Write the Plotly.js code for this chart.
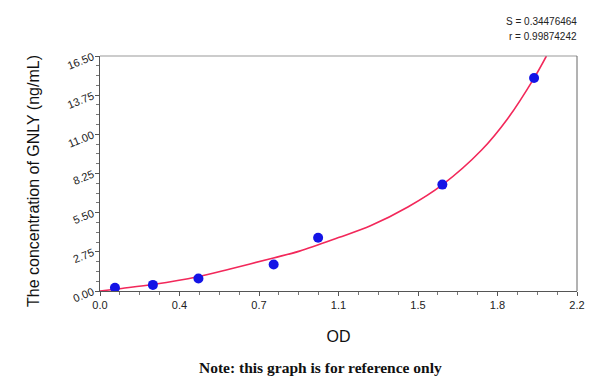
<!DOCTYPE html>
<html>
<head>
<meta charset="utf-8">
<script src="https://cdn.plot.ly/plotly-3.0.1.min.js"></script>
<style>html,body{margin:0;padding:0;background:#fff}#chart{width:600px;height:379px}</style>
</head>
<body>
<div id="chart"></div>
<script>
// Standard points (OD vs concentration)
const odValues = [0.069, 0.244, 0.454, 0.801, 1.006, 1.579, 2.002];
const concValues = [0.23, 0.43, 0.88, 1.86, 3.74, 7.47, 14.95];
// Fitted curve
const fitOD = [0, 0.1, 0.25, 0.45, 0.6, 0.8, 0.92, 1.1, 1.25, 1.42, 1.58, 1.76, 1.88, 2.0, 2.059];
const fitConc = [0, 0.18, 0.47, 1.0, 1.55, 2.32, 2.8, 3.75, 4.6, 5.9, 7.47, 9.9, 12.1, 14.9, 16.5];
// Axis ticks
const xTickVals = [0, 2.2/6, 2*2.2/6, 1.1, 4*2.2/6, 5*2.2/6, 2.2];
const xTickText = ["0.0", "0.4", "0.7", "1.1", "1.5", "1.8", "2.2"];
const yTickVals = [0, 2.75, 5.5, 8.25, 11, 13.75, 16.5];
const yTickText = ["0.00", "2.75", "5.50", "8.25", "11.00", "13.75", "16.50"];
const statS = "S = 0.34476464";
const statR = "r = 0.99874242";

const traces = [
  {x: fitOD, y: fitConc, mode: 'lines', line: {color: '#f2285a', width: 1.6, shape: 'spline', smoothing: 1}, hoverinfo: 'skip'},
  {x: odValues, y: concValues, mode: 'markers', marker: {color: '#1414e6', size: 10}}
];

const layout = {
  width: 600, height: 379,
  margin: {l: 100, r: 23, t: 56, b: 88},
  paper_bgcolor: '#fff', plot_bgcolor: '#fff',
  showlegend: false,
  font: {family: 'Arial, Liberation Sans, sans-serif', color: '#222'},
  xaxis: {
    range: [0, 2.2], showgrid: false, zeroline: false,
    showline: true, linecolor: '#555', linewidth: 1,
    tickmode: 'array', tickvals: xTickVals, ticktext: xTickText,
    ticks: 'outside', ticklen: 4, tickcolor: '#555',
    minor: {dtick: 2.2/24, tick0: 0, ticks: 'outside', ticklen: 3, tickcolor: '#777'},
    tickfont: {size: 11, color: '#222'},
    title: {text: 'OD', font: {size: 16, color: '#111'}, standoff: 20}
  },
  yaxis: {
    range: [0, 16.5], showgrid: false, zeroline: false,
    showline: true, linecolor: '#555', linewidth: 1,
    tickmode: 'array', tickvals: yTickVals, ticktext: yTickText,
    ticks: 'outside', ticklen: 4, tickcolor: '#555', tickangle: -22,
    minor: {dtick: 0.6875, tick0: 0, ticks: 'outside', ticklen: 3, tickcolor: '#777'},
    tickfont: {size: 11, color: '#222'}
  },
  shapes: [
    {type: 'line', xref: 'paper', yref: 'paper', x0: 0, x1: 1, y0: 1, y1: 1, line: {color: '#999', width: 1}},
    {type: 'line', xref: 'paper', yref: 'paper', x0: 1, x1: 1, y0: 0, y1: 1, line: {color: '#666', width: 1}}
  ],
  annotations: [
    {text: 'The concentration of GNLY (ng/mL)', xref: 'paper', yref: 'paper', x: (33-100)/477, y: (291-181)/235, xanchor: 'center', yanchor: 'middle', textangle: -90, showarrow: false, font: {size: 16, color: '#111'}},
    {text: statS, xref: 'paper', yref: 'paper', x: 1.005, y: 1.148, xanchor: 'right', yanchor: 'middle', showarrow: false, font: {size: 10, color: '#222'}},
    {text: statR, xref: 'paper', yref: 'paper', x: 1.005, y: 1.085, xanchor: 'right', yanchor: 'middle', showarrow: false, font: {size: 10, color: '#222'}},
    {text: '<b>Note: this graph is for reference only</b>', xref: 'paper', yref: 'paper', x: (320-100)/477, y: -(367-291)/235, xanchor: 'center', yanchor: 'middle', showarrow: false, font: {family: 'Liberation Serif, Times New Roman, serif', size: 15.5, color: '#111'}}
  ]
};

Plotly.newPlot('chart', traces, layout, {staticPlot: true});
</script>
</body>
</html>
